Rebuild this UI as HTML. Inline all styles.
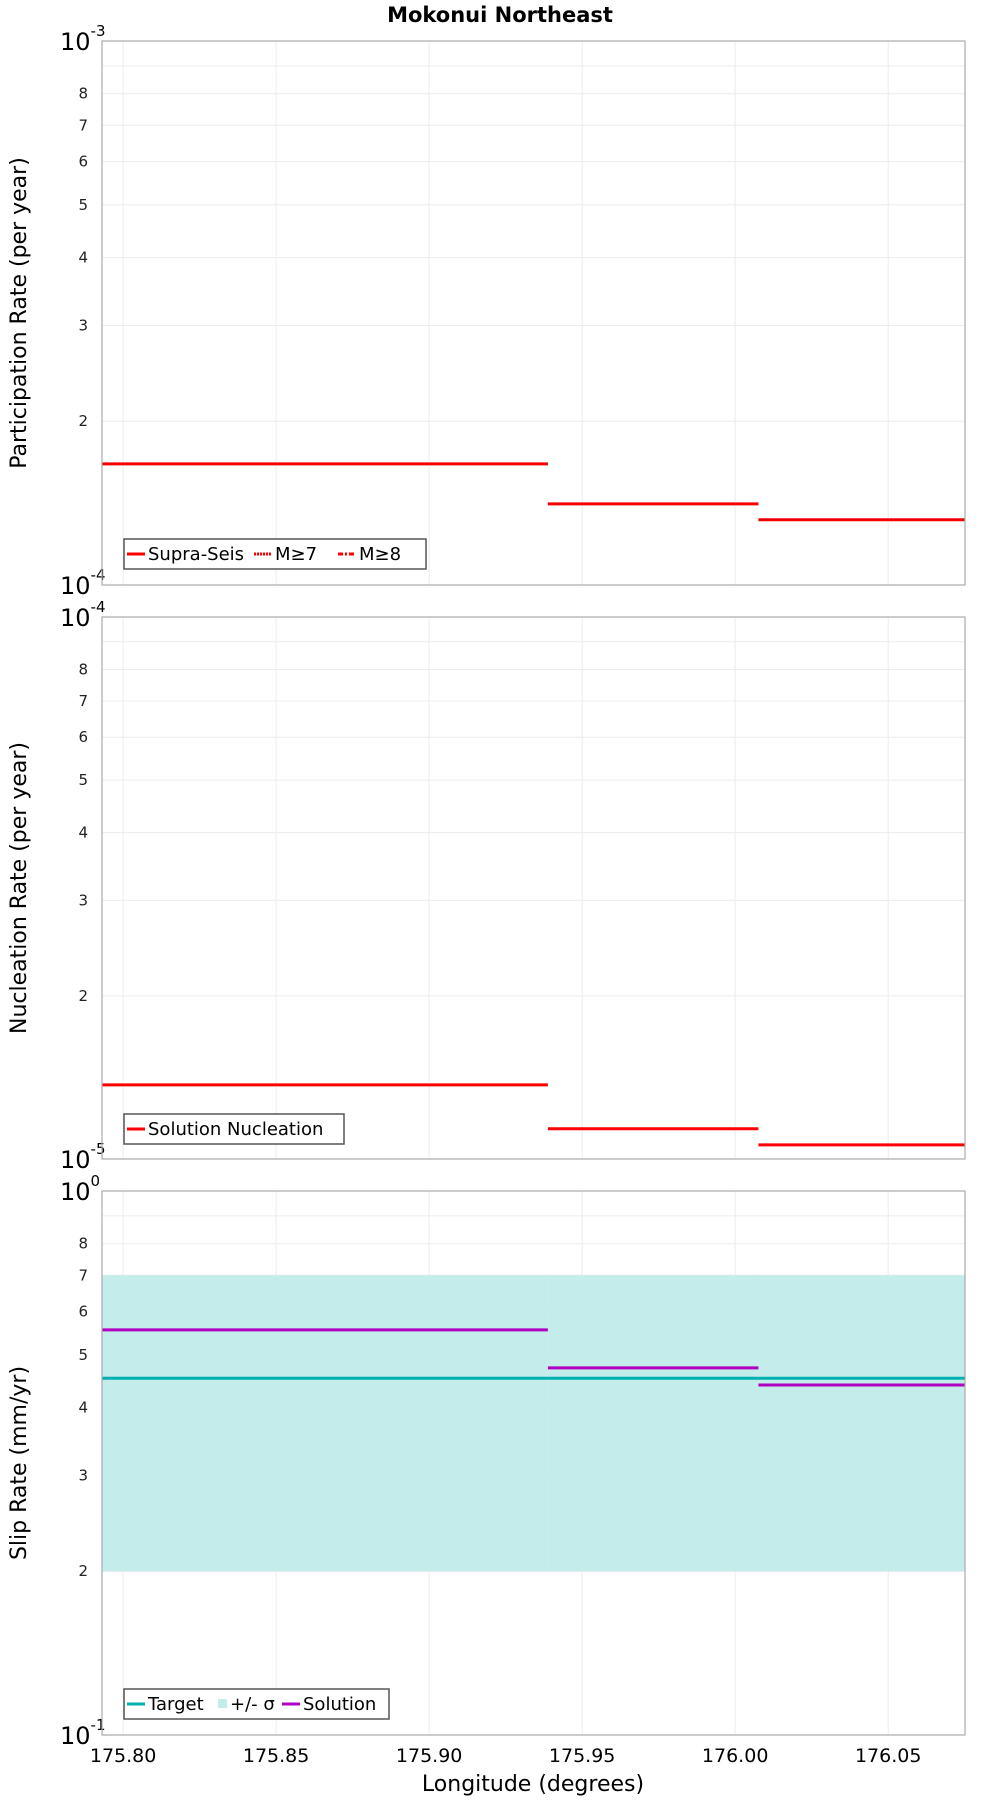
<!DOCTYPE html>
<html><head><meta charset="utf-8">
<style>
html,body{margin:0;padding:0;background:#fff;}
svg{display:block;font-family:"DejaVu Sans","Liberation Sans",sans-serif;}
</style></head>
<body>
<svg id="chart" width="1000" height="1800" viewBox="0 0 1000 1800"></svg>
<script>
const xTicks = [175.80, 175.85, 175.90, 175.95, 176.00, 176.05];
const xTickLabels = ["175.80", "175.85", "175.90", "175.95", "176.00", "176.05"];
const segStarts = [175.7931, 175.9388, 176.0076];
const segEnds = [175.9388, 176.0076, 176.0751];
const participation = [1.67e-4, 1.41e-4, 1.318e-4];
const nucleation = [1.37e-5, 1.137e-5, 1.062e-5];
const slipSolution = [0.5555, 0.473, 0.44];
const slipTarget = [0.4527, 0.4527, 0.4527];
const slipLow = [0.2, 0.2, 0.2];
const slipHigh = [0.7, 0.7, 0.7];
const minorTickLabels = ["2", "3", "4", "5", "6", "7", "8"];

const NS = "http://www.w3.org/2000/svg";
const svg = document.getElementById("chart");
const X0 = 102, X1 = 965, XMIN = 175.7931, XMAX = 176.0751;
function xs(v){ return X0 + (v - XMIN) / (XMAX - XMIN) * (X1 - X0); }
function mk(tag, attrs, parent){
  const e = document.createElementNS(NS, tag);
  for (const k in attrs) e.setAttribute(k, attrs[k]);
  (parent || svg).appendChild(e);
  return e;
}

const panels = [
  {top: 41, bot: 585, dmin: 1e-4, dmax: 1e-3, expTop: "-3", expBot: "-4", title: "Participation Rate (per year)", name: "participation"},
  {top: 617, bot: 1159, dmin: 1e-5, dmax: 1e-4, expTop: "-4", expBot: "-5", title: "Nucleation Rate (per year)", name: "nucleation"},
  {top: 1191, bot: 1735, dmin: 0.1, dmax: 1, expTop: "0", expBot: "-1", title: "Slip Rate (mm/yr)", name: "slip"}
];
panels.forEach(p => {
  p.ys = v => p.bot - (Math.log10(v) - Math.log10(p.dmin)) / (Math.log10(p.dmax) - Math.log10(p.dmin)) * (p.bot - p.top);
});

// title
const title = mk("text", {x: 500, y: 22, "text-anchor": "middle", "font-size": 21, "font-weight": "bold", fill: "#000"});
title.textContent = "Mokonui Northeast";



panels.forEach((p, pi) => {
  const g = mk("g", {});
  
  
  // background grid
  for (let i = 2; i <= 9; i++) {
    const v = p.dmin * i;
    const y = p.ys(v);
    const gl = mk("line", {x1: X0, x2: X1, y1: y, y2: y, stroke: "#ececec", "stroke-width": 1}, g);
    
    
    if (i <= 8) {
      const t = mk("text", {x: 88, y: y + 5, "text-anchor": "end", "font-size": 15, fill: "#222"}, g);
      t.textContent = minorTickLabels[i - 2];
      
      
    }
  }
  xTicks.forEach(v => {
    const x = xs(v);
    const gl = mk("line", {x1: x, x2: x, y1: p.top, y2: p.bot, stroke: "#ececec", "stroke-width": 1}, g);
    
    
  });
  // decade labels
  [[p.top, p.expTop], [p.bot, p.expBot]].forEach(([y, e]) => {
    const t = mk("text", {x: 60, y: y + 9, "font-size": 24, fill: "#000"}, g);
    t.textContent = "10";
    const s = mk("tspan", {dy: -14, "font-size": 15}, t);
    s.textContent = e;
    
    
  });
  // y title
  const cy = (p.top + p.bot) / 2;
  const yt = mk("text", {x: 26, y: cy, transform: `rotate(-90 26 ${cy})`, "text-anchor": "middle", "font-size": 22, fill: "#000"}, g);
  yt.textContent = p.title;
  
  

  // data
  if (pi === 0) {
    participation.forEach((v, i) => {
      const y = p.ys(v);
      const l = mk("line", {x1: xs(segStarts[i]), x2: xs(segEnds[i]), y1: y, y2: y, stroke: "#ff0000", "stroke-width": 3}, g);
      
      
      const l2 = mk("line", {x1: xs(segStarts[i]), x2: xs(segEnds[i]), y1: y, y2: y, stroke: "#cc0000", "stroke-width": 1, "stroke-dasharray": "2,2"}, g);
      
      
    });
  } else if (pi === 1) {
    nucleation.forEach((v, i) => {
      const y = p.ys(v);
      const l = mk("line", {x1: xs(segStarts[i]), x2: xs(segEnds[i]), y1: y, y2: y, stroke: "#ff0000", "stroke-width": 3}, g);
      
      
    });
  } else {
    slipLow.forEach((v, i) => {
      const y1 = p.ys(slipHigh[i]), y2 = p.ys(v);
      const r = mk("rect", {x: xs(segStarts[i]), y: y1, width: xs(segEnds[i]) - xs(segStarts[i]), height: y2 - y1, fill: "#c3ecea"}, g);
      
      
    });
    slipTarget.forEach((v, i) => {
      const y = p.ys(v);
      const l = mk("line", {x1: xs(segStarts[i]), x2: xs(segEnds[i]), y1: y, y2: y, stroke: "#00b0b0", "stroke-width": 3}, g);
      
      
    });
    slipSolution.forEach((v, i) => {
      const y = p.ys(v);
      const l = mk("line", {x1: xs(segStarts[i]), x2: xs(segEnds[i]), y1: y, y2: y, stroke: "#b000c0", "stroke-width": 3}, g);
      
      
    });
  }
  // frame
  const fr = mk("rect", {x: X0, y: p.top, width: X1 - X0, height: p.bot - p.top, fill: "none", stroke: "#aaa", "stroke-width": 1.2}, g);
  
  
});

// legends
function legend(x, y, w, items, name) {
  const g = mk("g", {});
  
  
  mk("rect", {x: x, y: y, width: w, height: 30, fill: "#fff", stroke: "#555", "stroke-width": 1.5}, g);
  let cx = x + 3;
  items.forEach(it => {
    if (it.kind === "box") {
      mk("rect", {x: cx + 2, y: y + 10, width: 9, height: 9, fill: it.color}, g);
      cx += 14;
    } else {
      mk("line", {x1: cx, x2: cx + 18, y1: y + 15, y2: y + 15, stroke: it.color, "stroke-width": 3, "stroke-dasharray": it.dash || "none"}, g);
      cx += 21;
    }
    const t = mk("text", {x: cx, y: y + 21, "font-size": 18, fill: "#000"}, g);
    t.textContent = it.label;
    
    
    cx += it.w;
  });
}
legend(124, 539, 302, [
  {color: "#ff0000", label: "Supra-Seis", w: 106},
  {color: "#ff0000", label: "M\u22657", dash: "2,1", w: 63},
  {color: "#ff0000", label: "M\u22658", dash: "5,2,2,2", w: 60}
], "participation-legend");
legend(124, 1114, 220, [
  {color: "#ff0000", label: "Solution Nucleation", w: 190}
], "nucleation-legend");
legend(124, 1689, 265, [
  {color: "#00b0b0", label: "Target", w: 68},
  {color: "#c3ecea", label: "+/- \u03c3", kind: "box", w: 52},
  {color: "#b000c0", label: "Solution", w: 90}
], "slip-legend");

// x ticks
xTicks.forEach((v, i) => {
  const t = mk("text", {x: xs(v), y: 1762, "text-anchor": "middle", "font-size": 19, fill: "#000"});
  t.textContent = xTickLabels[i];
  
  
});
const xt = mk("text", {x: 533, y: 1791, "text-anchor": "middle", "font-size": 22, fill: "#000"});
xt.textContent = "Longitude (degrees)";


</script>
</body></html>
